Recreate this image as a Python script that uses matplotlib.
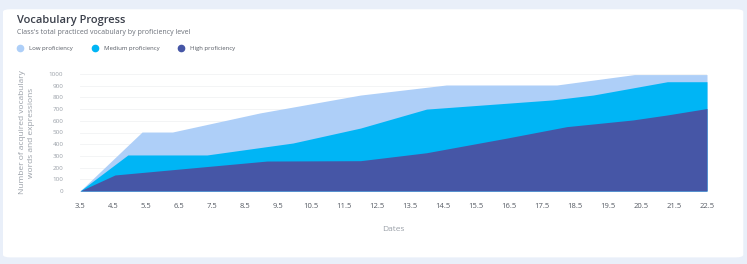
import matplotlib.pyplot as plt
from matplotlib.patches import FancyBboxPatch
from matplotlib.lines import Line2D

plt.rcParams['font.family'] = ['Open Sans', 'DejaVu Sans']

# x positions are in "tick units": 0 -> 3.5, 1 -> 4.5, ... 19 -> 22.5
date_labels = ['3.5', '4.5', '5.5', '6.5', '7.5', '8.5', '9.5', '10.5', '11.5', '12.5',
               '13.5', '14.5', '15.5', '16.5', '17.5', '18.5', '19.5', '20.5', '21.5', '22.5']

low_x = [0, 1.88, 2.8, 5.45, 8.5, 11.1, 14.45, 16.8, 19]
low_y = [0, 504, 504, 667, 820, 906, 906, 995, 995]

med_x = [0, 1.45, 3.85, 6.45, 8.5, 10.5, 14.3, 15.55, 17.8, 19]
med_y = [0, 308, 308, 410, 538, 700, 778, 820, 934, 934]

high_x = [0, 1.06, 5.67, 8.5, 10.5, 12.95, 14.75, 16.75, 17.8, 19]
high_y = [0, 137, 256, 259, 327, 453, 550, 607, 650, 705]

c_low = '#aecff8'
c_med = '#00b5f5'
c_high = '#4656a6'
grey = '#9aa0a8'

fig = plt.figure(figsize=(7.47, 2.64), dpi=100)
fig.patch.set_facecolor('#e9eff9')

card = FancyBboxPatch((0.004, 0.025), 0.991, 0.94, boxstyle='round,pad=0,rounding_size=0.01',
                      transform=fig.transFigure, facecolor='white', edgecolor='none', zorder=-5)
fig.patches.append(card)

ax = fig.add_axes([80 / 747, (264 - 191) / 264, 627 / 747, 117 / 264])
ax.set_facecolor('none')

ax.fill_between(low_x, low_y, color=c_low, lw=0, zorder=2)
ax.fill_between(med_x, med_y, color=c_med, lw=0, zorder=3)
ax.fill_between(high_x, high_y, color=c_high, lw=0, zorder=4)

ax.set_xlim(0, 19)
ax.set_ylim(0, 1000)
ax.set_xticks(range(len(date_labels)))
ax.set_xticklabels(date_labels, fontsize=5.5, color='#555a63')
ax.set_yticks(range(0, 1001, 100))
ax.set_yticklabels([str(v) for v in range(0, 1001, 100)], fontsize=4.5, color=grey)
ax.tick_params(axis='both', length=0)
ax.tick_params(axis='x', pad=9)
ax.tick_params(axis='y', pad=12)
ax.grid(axis='y', color='#f1f2f4', lw=0.6, zorder=0)
for s in ax.spines.values():
    s.set_visible(False)

ax.set_xlabel('Dates', fontsize=6, color=grey, labelpad=11)
ax.set_ylabel('Number of acquired vocabulary\nwords and expressions', fontsize=6, color=grey,
              labelpad=10, linespacing=1.3)

fig.text(17 / 747, 1 - 20 / 264, 'Vocabulary Progress', fontsize=8, fontweight='semibold',
         color='#3a3f4a', va='center')
fig.text(17 / 747, 1 - 33 / 264, "Class's total practiced vocabulary by proficiency level",
         fontsize=5, color='#6b7079', va='center')

handles = [Line2D([], [], marker='o', ls='', color=c, markersize=4.5) for c in (c_low, c_med, c_high)]
fig.legend(handles, ['Low proficiency', 'Medium proficiency', 'High proficiency'],
           loc='center left', bbox_to_anchor=(9 / 747, 1 - 48 / 264), ncol=3, frameon=False,
           fontsize=4.3, handletextpad=0.5, columnspacing=2.6, labelcolor='#555a63')

fig.savefig('out.png', dpi=100, facecolor=fig.get_facecolor())
